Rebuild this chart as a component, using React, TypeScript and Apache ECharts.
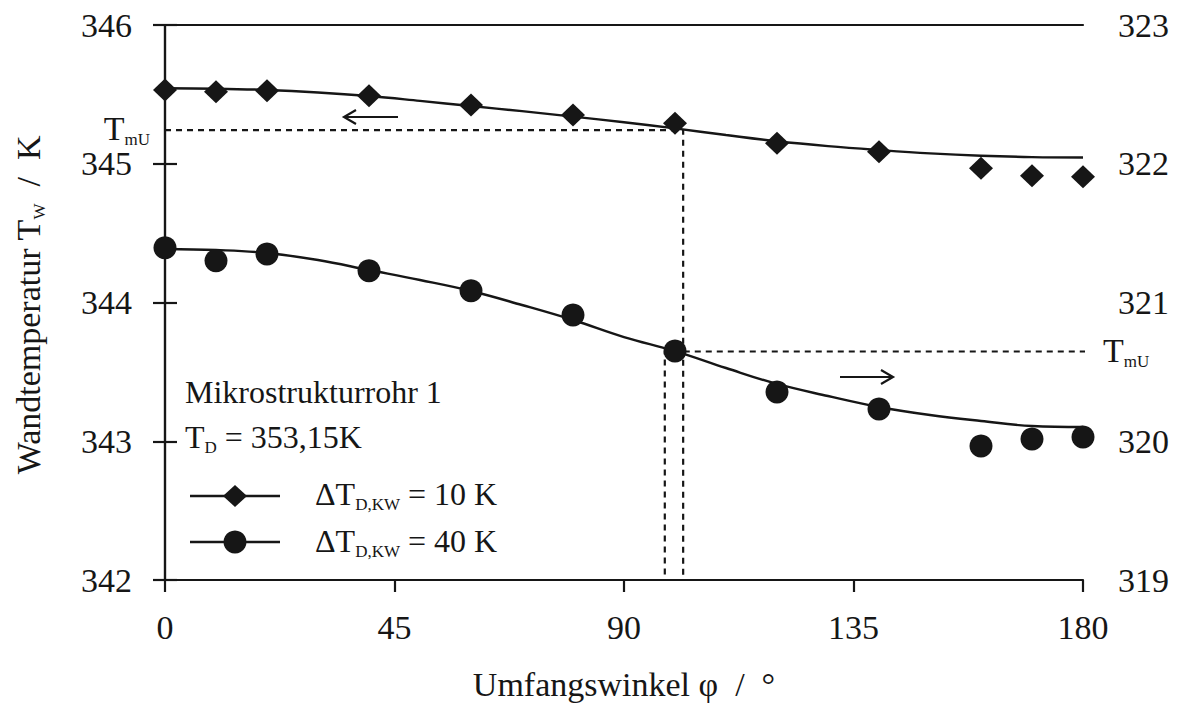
import React, { useEffect, useRef } from "react";
import * as echarts from "echarts";

const angles = [0, 10, 20, 40, 60, 80, 100, 120, 140, 160, 170, 180];
const dT10 = [345.532, 345.519, 345.526, 345.49, 345.423, 345.351, 345.292, 345.147, 345.086, 344.967, 344.914, 344.907];
const dT40 = [321.394, 321.301, 321.35, 321.229, 321.085, 320.91, 320.65, 320.355, 320.232, 319.966, 320.016, 320.031];

const fitAngles = [0, 10, 20, 30, 40, 50, 60, 70, 80, 90, 100, 110, 120, 130, 140, 150, 160, 170, 180];
const fit10 = [345.544, 345.541, 345.532, 345.514, 345.488, 345.453, 345.416, 345.379, 345.34, 345.299, 345.255, 345.207, 345.162, 345.127, 345.099, 345.075, 345.058, 345.048, 345.045];
const fit40 = [321.386, 321.378, 321.357, 321.306, 321.234, 321.162, 321.083, 320.982, 320.874, 320.751, 320.65, 320.528, 320.413, 320.326, 320.247, 320.189, 320.146, 320.11, 320.103];

const xTicks = [0, 45, 90, 135, 180];
const leftRange = [342, 346];
const rightRange = [319, 323];

const tmuLeft = { angle: 101.6, value: 345.243 };
const tmuRight = { angle: 98.0, value: 320.647, end: 182.7 };

const FONT = "'Liberation Serif', 'Times New Roman', serif";
const INK = "#161616";

export default function App() {
  const ref = useRef<HTMLDivElement>(null);
  useEffect(() => {
    document.body.style.margin = "0";
    const chart = echarts.init(ref.current!, undefined, { renderer: "svg" });
    const axisLine = { show: true, lineStyle: { color: INK, width: 2.2 } };
    const axisTick = { show: true, inside: false, length: 12, lineStyle: { color: INK, width: 2.2 } };
    const labelStyle = { color: INK, fontFamily: FONT, fontSize: 34 };
    const subRich = {
      s: { fontSize: 17, fontFamily: FONT, color: INK, verticalAlign: "bottom", lineHeight: 17 },
      n: { fontSize: 34, fontFamily: FONT, color: INK, lineHeight: 40 },
    };
    const subRichSmall = {
      s: { fontSize: 17, fontFamily: FONT, color: INK, verticalAlign: "bottom", lineHeight: 17 },
      n: { fontSize: 32, fontFamily: FONT, color: INK, lineHeight: 38 },
    };
    const txt = (x: number, y: number, text: string, align: string, rich: any, extra: any = {}) => ({
      type: "text",
      x,
      y,
      ...extra,
      style: { text, align, verticalAlign: "middle", fontFamily: FONT, fontSize: 32, fill: INK, rich },
    });

    chart.setOption({
      animation: false,
      backgroundColor: "#ffffff",
      grid: { left: 165, right: 101, top: 25, bottom: 124, containLabel: false },
      xAxis: [
        {
          type: "value",
          min: 0,
          max: 180,
          interval: 45,
          axisLine,
          axisTick,
          splitLine: { show: false },
          axisLabel: { ...labelStyle, margin: 30, customValues: xTicks },
        },
        {
          type: "value",
          position: "top",
          min: 0,
          max: 180,
          axisLine,
          axisTick: { show: false },
          axisLabel: { show: false },
          splitLine: { show: false },
        },
      ],
      yAxis: [
        {
          type: "value",
          min: leftRange[0],
          max: leftRange[1],
          interval: 1,
          axisLine,
          axisTick,
          splitLine: { show: false },
          axisLabel: { ...labelStyle, margin: 33 },
        },
        {
          type: "value",
          position: "right",
          min: rightRange[0],
          max: rightRange[1],
          interval: 1,
          axisLine,
          axisTick,
          splitLine: { show: false },
          axisLabel: { ...labelStyle, margin: 35 },
        },
      ],
      series: [
        {
          type: "line",
          yAxisIndex: 0,
          data: [[0, tmuLeft.value], [tmuLeft.angle, tmuLeft.value], [tmuLeft.angle, leftRange[0]]],
          symbol: "none",
          lineStyle: { color: INK, width: 2.2, type: [6, 5] },
          z: 1,
        },
        {
          type: "line",
          yAxisIndex: 1,
          clip: false,
          data: [[tmuRight.end, tmuRight.value], [tmuRight.angle, tmuRight.value], [tmuRight.angle, rightRange[0]]],
          symbol: "none",
          lineStyle: { color: INK, width: 2.2, type: [6, 5] },
          z: 1,
        },
        {
          type: "line",
          yAxisIndex: 0,
          data: fitAngles.map((a, i) => [a, fit10[i]]),
          smooth: 0.4,
          symbol: "none",
          lineStyle: { color: INK, width: 2.4 },
          z: 2,
        },
        {
          type: "line",
          yAxisIndex: 1,
          data: fitAngles.map((a, i) => [a, fit40[i]]),
          smooth: 0.4,
          symbol: "none",
          lineStyle: { color: INK, width: 2.4 },
          z: 2,
        },
        {
          type: "scatter",
          yAxisIndex: 0,
          clip: false,
          data: angles.map((a, i) => [a, dT10[i]]),
          symbol: "diamond",
          symbolSize: [24, 23],
          itemStyle: { color: INK, opacity: 1 },
          z: 3,
        },
        {
          type: "scatter",
          yAxisIndex: 1,
          clip: false,
          data: angles.map((a, i) => [a, dT40[i]]),
          symbol: "circle",
          symbolSize: 23,
          itemStyle: { color: INK, opacity: 1 },
          z: 3,
        },
      ],
      graphic: [
        // axis titles
        txt(28, 305, "{n|Wandtemperatur T}{s|W}{n|  /  K}", "center", subRich, { rotation: Math.PI / 2 }),
        txt(624, 684, "{n|Umfangswinkel φ  /  °}", "center", subRich),
        // T_mU labels
        txt(150, 128, "{n|T}{s|mU}", "right", subRich),
        txt(1103, 350, "{n|T}{s|mU}", "left", subRich),
        // annotations
        txt(185, 392, "{n|Mikrostrukturrohr 1}", "left", subRichSmall),
        txt(185, 437, "{n|T}{s|D}{n| = 353,15K}", "left", subRichSmall),
        txt(315, 494, "{n|ΔT}{s|D,KW}{n| = 10 K}", "left", subRichSmall),
        txt(315, 541, "{n|ΔT}{s|D,KW}{n| = 40 K}", "left", subRichSmall),
        // legend samples
        { type: "line", shape: { x1: 190, y1: 496, x2: 280, y2: 496 }, style: { stroke: INK, lineWidth: 2.4 } },
        { type: "polygon", shape: { points: [[235, 485], [247, 496], [235, 507], [223, 496]] }, style: { fill: INK } },
        { type: "line", shape: { x1: 190, y1: 542, x2: 280, y2: 542 }, style: { stroke: INK, lineWidth: 2.4 } },
        { type: "circle", shape: { cx: 235, cy: 542, r: 11.5 }, style: { fill: INK } },
        // arrows
        { type: "line", shape: { x1: 344, y1: 117, x2: 398, y2: 117 }, style: { stroke: INK, lineWidth: 2.2 } },
        { type: "polyline", shape: { points: [[356, 110], [344, 117], [356, 124]] }, style: { stroke: INK, lineWidth: 2.2, fill: null } },
        { type: "line", shape: { x1: 840, y1: 377, x2: 893, y2: 377 }, style: { stroke: INK, lineWidth: 2.2 } },
        { type: "polyline", shape: { points: [[881, 370], [893, 377], [881, 384]] }, style: { stroke: INK, lineWidth: 2.2, fill: null } },
      ],
    });
    return () => chart.dispose();
  }, []);
  return <div ref={ref} style={{ width: 1184, height: 704, position: "absolute", left: 0, top: 0 }} />;
}
